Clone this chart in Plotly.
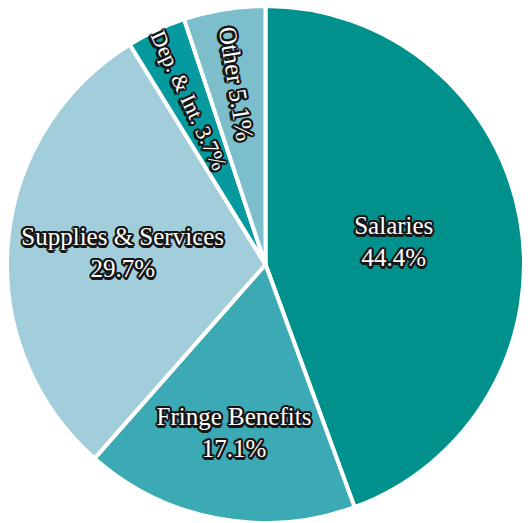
import plotly.graph_objects as go

labels = ["Salaries", "Fringe Benefits", "Supplies & Services", "Dep. & Int.", "Other"]
values = [44.4, 17.1, 29.7, 3.7, 5.1]
colors = ["#00918c", "#3caab5", "#a2cedb", "#06999d", "#7cbecc"]
small = [False, False, False, True, True]

big_text = [f"{l}<br>{v:.1f}%" if not s else "" for l, v, s in zip(labels, values, small)]
small_text = [f"{l} {v:.1f}%" if s else "" for l, v, s in zip(labels, values, small)]

c = "#161616"
offs = [(1, 1), (-1, -1), (1, -1), (-1, 1), (2, 0), (-2, 0), (0, 2), (0, -2),
        (2, 1), (-2, 1), (2, -1), (-2, -1), (1, 2), (-1, 2), (1, -2), (-1, -2), (1, 3), (0, 3)]
shadow = ", ".join(f"{c} {dx}px {dy}px 0px" for dx, dy in offs)

W, H = 530, 523
cx, cy, R = 265.5, 264.5, 258.5
dom_x = [max(0, (cx - R) / W), min(1, (cx + R) / W)]
dom_y = [max(0, (H - cy - R) / H), min(1, (H - cy + R) / H)]

font = dict(family="Liberation Serif, Times New Roman, serif", size=25, color="white", shadow=shadow)

fig = go.Figure()
fig.add_trace(go.Pie(
    labels=labels, values=values, sort=False, direction="clockwise", rotation=0,
    marker=dict(colors=colors, line=dict(color="white", width=4)),
    text=big_text, textinfo="text", textposition="inside",
    insidetextorientation="horizontal", insidetextfont=font,
    domain=dict(x=dom_x, y=dom_y), showlegend=False, hoverinfo="label+percent",
))
fig.add_trace(go.Pie(
    labels=labels, values=values, sort=False, direction="clockwise", rotation=0,
    marker=dict(colors=["rgba(0,0,0,0)"] * 5, line=dict(width=0)),
    text=small_text, textinfo="text", textposition="inside",
    insidetextorientation="radial", insidetextfont=font,
    domain=dict(x=dom_x, y=dom_y), showlegend=False, hoverinfo="skip",
))
fig.update_layout(
    width=W, height=H, margin=dict(l=0, r=0, t=0, b=0),
    paper_bgcolor="white", plot_bgcolor="white", showlegend=False,
)
fig.write_html("out.html")
